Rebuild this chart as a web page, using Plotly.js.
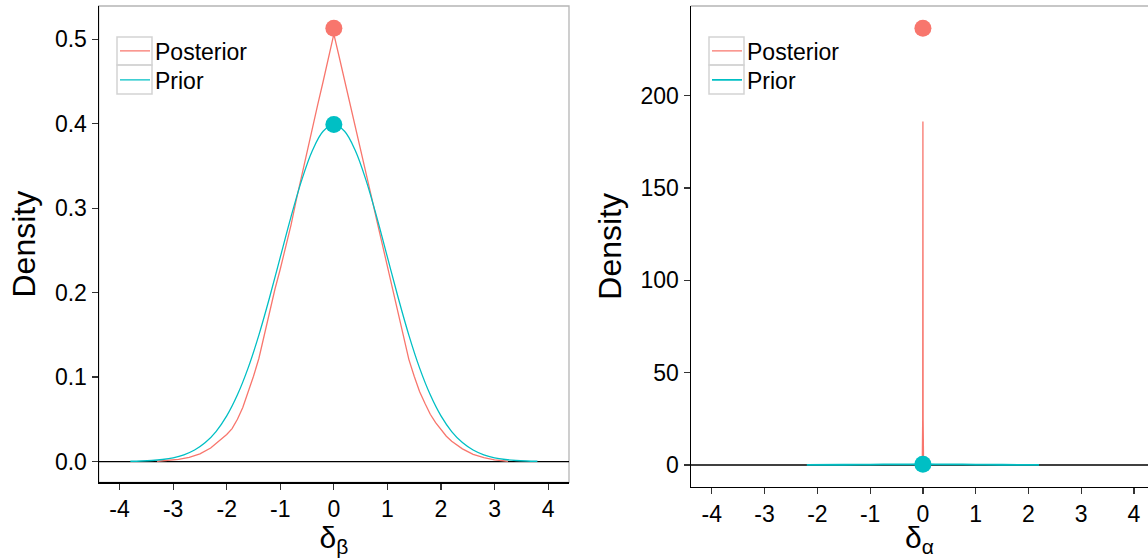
<!DOCTYPE html>
<html><head><meta charset="utf-8">
<script src="https://cdn.plot.ly/plotly-3.0.1.min.js"></script>
<style>html,body{margin:0;padding:0;background:#fff}#chart{width:1148px;height:558px}</style>
</head><body><div id="chart"></div>
<script>
// ---- Left panel: delta_beta ----
const betaPriorX = [-3.8,-3.6,-3.4,-3.2,-3.0,-2.8,-2.6,-2.4,-2.2,-2.0,-1.8,-1.6,-1.4,-1.2,-1.0,-0.8,-0.6,-0.4,-0.2,0,0.2,0.4,0.6,0.8,1.0,1.2,1.4,1.6,1.8,2.0,2.2,2.4,2.6,2.8,3.0,3.2,3.4,3.6,3.8];
const betaPrior = [0.0003,0.0006,0.0012,0.0024,0.0044,0.0079,0.0136,0.0224,0.0355,0.0540,0.0790,0.1109,0.1497,0.1942,0.2420,0.2897,0.3332,0.3683,0.3910,0.3989,0.3910,0.3683,0.3332,0.2897,0.2420,0.1942,0.1497,0.1109,0.0790,0.0540,0.0355,0.0224,0.0136,0.0079,0.0044,0.0024,0.0012,0.0006,0.0003];
const betaPostX = [-3.3,-3.1,-2.9,-2.7,-2.5,-2.3,-2.1,-2.0,-1.9,-1.8,-1.7,-1.6,-1.5,-1.4,-1.3,-1.2,-1.1,-1.0,-0.9,-0.8,-0.7,-0.6,-0.5,-0.4,-0.3,-0.2,-0.1,0,0.1,0.2,0.3,0.4,0.5,0.6,0.7,0.8,0.9,1.0,1.1,1.2,1.3,1.4,1.5,1.6,1.7,1.8,1.9,2.0,2.1,2.2,2.4,2.6,2.8,3.0,3.25];
const betaPost = [0.0003,0.0012,0.0025,0.0048,0.0090,0.0160,0.0260,0.0320,0.0390,0.0500,0.0640,0.0820,0.1010,0.1220,0.1490,0.1790,0.2040,0.2280,0.2540,0.2800,0.3100,0.3390,0.3670,0.3950,0.4230,0.4500,0.4780,0.5060,0.4790,0.4520,0.4250,0.3980,0.3700,0.3420,0.3140,0.2860,0.2580,0.2290,0.2030,0.1760,0.1480,0.1210,0.1010,0.0830,0.0690,0.0560,0.0460,0.0380,0.0300,0.0240,0.0150,0.0085,0.0045,0.0020,0.0003];
const betaPeakX = [0];
const betaPostPeak = [0.513];
const betaPriorPeak = [0.399];
const betaYTicks = [0,0.1,0.2,0.3,0.4,0.5];

// ---- Right panel: delta_alpha ----
const alphaPriorX = [-2.2,-1.5,-1.0,-0.5,0,0.5,1.0,1.5,2.2];
const alphaPrior = [0.035,0.13,0.24,0.35,0.40,0.35,0.24,0.13,0.035];
const alphaPostX = [-0.06,-0.012,-0.004,0,0.004,0.012,0.06];
const alphaPost = [0,2,25,186,25,2,0];
const alphaPeakX = [0];
const alphaPostPeak = [236.6];
const alphaPriorPeak = [0.4];
const alphaYTicks = [0,50,100,150,200];

const xTicks = [-4,-3,-2,-1,0,1,2,3,4];
const seriesNames = ['Posterior','Prior'];
const colPost = '#F8766D', colPrior = '#00BFC4';

const FONT = 'Liberation Sans, Arial, Helvetica, sans-serif';

const traces = [
  {x: betaPostX, y: betaPost, type:'scatter', mode:'lines', name: seriesNames[0], line:{color:colPost,width:1.3}, xaxis:'x', yaxis:'y', legend:'legend'},
  {x: betaPriorX, y: betaPrior, type:'scatter', mode:'lines', name: seriesNames[1], line:{color:colPrior,width:1.3, shape:'spline'}, xaxis:'x', yaxis:'y', legend:'legend3'},
  {x: betaPeakX, y: betaPostPeak, type:'scatter', mode:'markers', marker:{color:colPost,size:17}, showlegend:false, xaxis:'x', yaxis:'y', hoverinfo:'skip'},
  {x: betaPeakX, y: betaPriorPeak, type:'scatter', mode:'markers', marker:{color:colPrior,size:17}, showlegend:false, xaxis:'x', yaxis:'y', hoverinfo:'skip'},

  {x: alphaPostX, y: alphaPost, type:'scatter', mode:'lines', name: seriesNames[0], line:{color:colPost,width:1.3}, xaxis:'x2', yaxis:'y2', legend:'legend2'},
  {x: alphaPriorX, y: alphaPrior, type:'scatter', mode:'lines', name: seriesNames[1], line:{color:colPrior,width:1.8, shape:'spline'}, xaxis:'x2', yaxis:'y2', legend:'legend4'},
  {x: alphaPeakX, y: alphaPostPeak, type:'scatter', mode:'markers', marker:{color:colPost,size:17}, showlegend:false, xaxis:'x2', yaxis:'y2', hoverinfo:'skip'},
  {x: alphaPeakX, y: alphaPriorPeak, type:'scatter', mode:'markers', marker:{color:colPrior,size:17}, showlegend:false, xaxis:'x2', yaxis:'y2', hoverinfo:'skip'}
];

const W = 1148, H = 558;
function px(x){return x/W;}
function py(y){return (H-y)/H;}

const axisCommon = {
  showgrid:false, zeroline:false, showline:true, linecolor:'#000', linewidth:1.2,
  ticks:'outside', ticklen:6, tickwidth:1.2, tickcolor:'#333',
  tickfont:{family:FONT, size:23, color:'#000'}, automargin:false, fixedrange:true
};

function legendAt(x, yMid){
  return {x:px(x), y:py(yMid), xanchor:'left', yanchor:'middle', bgcolor:'rgba(0,0,0,0)', borderwidth:0,
    font:{family:FONT,size:23,color:'#000'}, itemwidth:30, tracegroupgap:0, traceorder:'normal'};
}

// legend key boxes (grey outlined squares behind the legend line symbols)
function keyBox(x0, y0, x1, y1){
  return {type:'rect', xref:'paper', yref:'paper', x0:px(x0), x1:px(x1), y0:py(y1), y1:py(y0),
    line:{color:'#d3d3d3', width:1.5}, fillcolor:'rgba(0,0,0,0)', layer:'above'};
}
const dxR = 592;

const layout = {
  width:W, height:H,
  margin:{l:0,r:0,t:0,b:0,pad:0},
  paper_bgcolor:'#fff', plot_bgcolor:'#fff',
  font:{family:FONT, color:'#000'},
  xaxis: Object.assign({}, axisCommon, {domain:[px(98.7), px(569)], range:[-4.39,4.39], tickvals:xTicks, ticktext:xTicks.map(String), anchor:'y',
    title:{text:'δ<sub>β</sub>', font:{family:FONT,size:30,color:'#000'}, standoff:0}}),
  yaxis: Object.assign({}, axisCommon, {domain:[py(482.3), py(6)], range:[-0.0246,0.5394], tickvals:betaYTicks, ticktext:betaYTicks.map(v=>v.toFixed(1)), anchor:'x',
    title:{text:'Density', font:{family:FONT,size:32,color:'#000'}, standoff:9}}),
  xaxis2: Object.assign({}, axisCommon, {domain:[px(690.7), 1], range:[-4.40,4.265], tickvals:xTicks, ticktext:xTicks.map(String), anchor:'y2',
    title:{text:'δ<sub>α</sub>', font:{family:FONT,size:30,color:'#000'}, standoff:0}}),
  yaxis2: Object.assign({}, axisCommon, {domain:[py(486.7), py(6)], range:[-11.75,248.6], tickvals:alphaYTicks, ticktext:alphaYTicks.map(String), anchor:'x2',
    title:{text:'Density', font:{family:FONT,size:32,color:'#000'}, standoff:9}}),
  legend: legendAt(115, 51),
  legend3: legendAt(115, 80),
  legend2: legendAt(115+dxR, 51),
  legend4: legendAt(115+dxR, 80),
  showlegend:true,
  shapes: [
    {type:'rect', xref:'x domain', yref:'y domain', x0:0, x1:1, y0:0, y1:1, line:{color:'#b5b5b5', width:1.3}, layer:'below'},
    {type:'line', xref:'x2 domain', yref:'y2 domain', x0:0, x1:1, y0:1, y1:1, line:{color:'#b5b5b5', width:1.3}, layer:'below'},
    {type:'line', xref:'x domain', yref:'y', x0:0, x1:1, y0:0, y1:0, line:{color:'#000', width:1.3}, layer:'below'},
    {type:'line', xref:'x2 domain', yref:'y2', x0:0, x1:1, y0:0, y1:0, line:{color:'#000', width:1.3}, layer:'below'},
    keyBox(117, 37, 152, 65), keyBox(117, 65, 152, 94),
    keyBox(117+dxR, 37, 152+dxR, 65), keyBox(117+dxR, 65, 152+dxR, 94)
  ]
};

Plotly.newPlot('chart', traces, layout, {staticPlot:true, displayModeBar:false});
</script>
</body></html>
